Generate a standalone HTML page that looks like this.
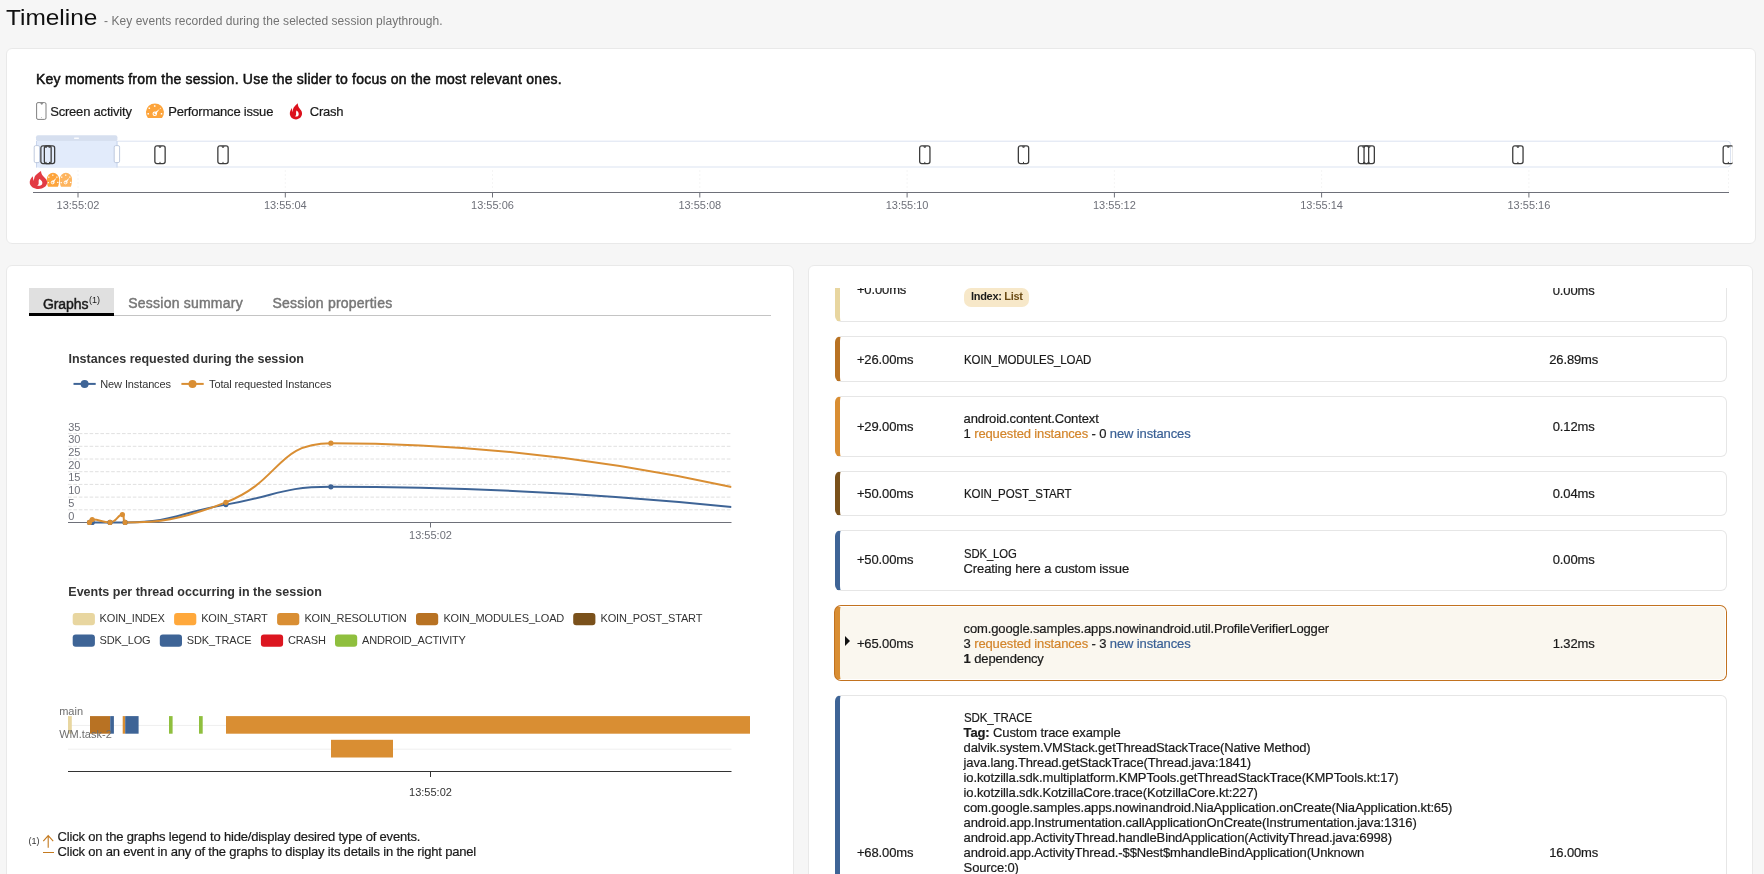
<!DOCTYPE html>
<html><head><meta charset="utf-8">
<style>
*{box-sizing:border-box}
html,body{margin:0;padding:0}
body{will-change:transform;width:1764px;height:874px;overflow:hidden;position:relative;background:#f6f6f6;font-family:"Liberation Sans",sans-serif;color:#1e1e1e}
.abs{position:absolute;white-space:nowrap}
.card{position:absolute;background:#fff;border:1px solid #e9e9e9;border-radius:6px}
svg text{font-family:"Liberation Sans",sans-serif}
.ax{font-size:11px;fill:#6e7079}
.ax2{font-size:11px;fill:#333}
.lg{font-size:11px;fill:#333;letter-spacing:-0.12px}
.lg2{font-size:11px;fill:#333;letter-spacing:-0.16px}
.ct{font-size:12.5px;font-weight:bold;fill:#333}
.yl{font-size:11px;fill:#6e6e6e}
#rp{position:absolute;left:826px;top:288px;width:910px;height:586px;overflow:hidden}
#rpi{position:absolute;left:-826px;top:-288px;width:1764px;height:1200px}
.row{position:absolute;background:#fff;border:1px solid #e6e6e6;border-left:5px solid #ccc;border-radius:6px}
.row.hl{background:#faf7ef;border-color:#fff;box-shadow:0 0 0 1px #c2721f}
.uc{display:inline-block;transform-origin:0 50%}
.t{position:absolute;white-space:nowrap;font-size:13px;line-height:15px;letter-spacing:-0.13px;color:#1a1a1a;-webkit-text-stroke:0.2px #1a1a1a}
.t .o{-webkit-text-stroke:0.2px #d3852b}
.t .b{-webkit-text-stroke:0.2px #3a6095}
.t b{font-weight:bold}
.o{color:#d3852b}
.b{color:#3a6095}
.badge{position:absolute;height:19px;padding:0 6px 3px 7px;background:#f7e8c9;border-radius:7px;font-size:11px;line-height:16px;letter-spacing:-0.3px;white-space:nowrap;color:#1a1a1a}
.badge .lst{color:#6b4b14}
.chev{position:absolute;width:0;height:0;border-top:5.1px solid transparent;border-bottom:5.1px solid transparent;border-left:5.4px solid #111}
</style></head><body>
<div class="abs" style="left:6px;top:4.18px;font-size:22px;line-height:28px;transform:scaleX(1.11);transform-origin:0 0;color:#111">Timeline</div>
<div class="abs" style="left:104px;top:13.64px;font-size:12px;line-height:14px;letter-spacing:0.05px;color:#737373">- Key events recorded during the selected session playthrough.</div>

<div class="card" style="left:6px;top:48px;width:1750px;height:196px"></div>
<div class="card" style="left:6px;top:265px;width:788px;height:640px"></div>
<div class="card" style="left:808px;top:265px;width:945px;height:640px"></div>

<div class="abs" style="left:36px;top:70.85px;font-size:14px;line-height:16px;letter-spacing:0.23px;-webkit-text-stroke:0.5px #111;color:#111">Key moments from the session. Use the slider to focus on the most relevant ones.</div>
<div class="abs" style="left:50.2px;top:103.70px;font-size:13px;line-height:15px;letter-spacing:-0.2px;color:#1a1a1a;-webkit-text-stroke:0.2px #1a1a1a">Screen activity</div>
<div class="abs" style="left:168.2px;top:103.70px;font-size:13px;line-height:15px;letter-spacing:-0.2px;color:#1a1a1a;-webkit-text-stroke:0.2px #1a1a1a">Performance issue</div>
<div class="abs" style="left:309.7px;top:103.70px;font-size:13px;line-height:15px;letter-spacing:-0.2px;color:#1a1a1a;-webkit-text-stroke:0.2px #1a1a1a">Crash</div>

<!-- tabs -->
<div class="abs" style="left:29px;top:288px;width:85px;height:25px;background:#e0e0e0"></div>
<div class="abs" style="left:29px;top:315px;width:742px;height:1px;background:#c4c4c4"></div>
<div class="abs" style="left:29px;top:313px;width:85px;height:3px;background:#000"></div>
<div class="abs" style="left:43px;top:295.65px;font-size:14px;line-height:16px;letter-spacing:-0.1px;-webkit-text-stroke:0.45px #1a1a1a;color:#1a1a1a">Graphs<span style="font-size:9px;-webkit-text-stroke:0;position:relative;top:-5.5px;margin-left:0.7px;letter-spacing:0">(1)</span></div>
<div class="abs" style="left:128.3px;top:294.75px;font-size:14px;line-height:16px;letter-spacing:0.22px;-webkit-text-stroke:0.45px #777;color:#777">Session summary</div>
<div class="abs" style="left:272.5px;top:294.75px;font-size:14px;line-height:16px;letter-spacing:0.22px;-webkit-text-stroke:0.45px #777;color:#777">Session properties</div>

<!-- footnote -->
<div class="abs" style="left:28.6px;top:836.18px;font-size:9px;line-height:10px;color:#333">(1)</div>
<div class="abs" style="left:57.6px;top:829.10px;font-size:13px;line-height:15px;letter-spacing:-0.19px;color:#1a1a1a;-webkit-text-stroke:0.2px #1a1a1a">Click on the graphs legend to hide/display desired type of events.<br>Click on an event in any of the graphs to display its details in the right panel</div>

<svg class="abs" style="left:0;top:0" width="1764" height="874" viewBox="0 0 1764 874">
<rect x="36" y="135.3" width="81.4" height="6" rx="2" fill="#d6dfef"/>
<rect x="74" y="137.6" width="5" height="1.3" rx="0.6" fill="#fff" opacity="0.9"/>
<rect x="36.5" y="141.2" width="1694" height="25.8" rx="3" fill="#fff" stroke="#dbe3f1" stroke-width="1"/>
<rect x="36" y="141" width="81.4" height="26.5" fill="#e2ebfb"/>
<line x1="36.5" y1="141" x2="36.5" y2="167.5" stroke="#c9d5ec" stroke-width="1"/>
<line x1="117" y1="141" x2="117" y2="167.5" stroke="#c9d5ec" stroke-width="1"/>
<g transform="translate(40.20,145.20)"><rect x="0.65" y="0.65" width="10.3" height="17.7" rx="2.1" fill="none" stroke="#3d3d3d" stroke-width="1.3"/><path d="M4.1,1.0 L7.5,1.0 L6.5,2.6 L5.1,2.6 Z" fill="#3d3d3d"/><path d="M5.8,17.9 L5.8,16.7" stroke="#3d3d3d" stroke-width="1"/></g>
<g transform="translate(43.70,145.20)"><rect x="0.65" y="0.65" width="10.3" height="17.7" rx="2.1" fill="none" stroke="#3d3d3d" stroke-width="1.3"/><path d="M4.1,1.0 L7.5,1.0 L6.5,2.6 L5.1,2.6 Z" fill="#3d3d3d"/><path d="M5.8,17.9 L5.8,16.7" stroke="#3d3d3d" stroke-width="1"/></g>
<g transform="translate(154.20,145.20)"><rect x="0.65" y="0.65" width="10.3" height="17.7" rx="2.1" fill="none" stroke="#3d3d3d" stroke-width="1.3"/><path d="M4.1,1.0 L7.5,1.0 L6.5,2.6 L5.1,2.6 Z" fill="#3d3d3d"/><path d="M5.8,17.9 L5.8,16.7" stroke="#3d3d3d" stroke-width="1"/></g>
<g transform="translate(217.20,145.20)"><rect x="0.65" y="0.65" width="10.3" height="17.7" rx="2.1" fill="none" stroke="#3d3d3d" stroke-width="1.3"/><path d="M4.1,1.0 L7.5,1.0 L6.5,2.6 L5.1,2.6 Z" fill="#3d3d3d"/><path d="M5.8,17.9 L5.8,16.7" stroke="#3d3d3d" stroke-width="1"/></g>
<g transform="translate(919.00,145.20)"><rect x="0.65" y="0.65" width="10.3" height="17.7" rx="2.1" fill="none" stroke="#3d3d3d" stroke-width="1.3"/><path d="M4.1,1.0 L7.5,1.0 L6.5,2.6 L5.1,2.6 Z" fill="#3d3d3d"/><path d="M5.8,17.9 L5.8,16.7" stroke="#3d3d3d" stroke-width="1"/></g>
<g transform="translate(1017.70,145.20)"><rect x="0.65" y="0.65" width="10.3" height="17.7" rx="2.1" fill="none" stroke="#3d3d3d" stroke-width="1.3"/><path d="M4.1,1.0 L7.5,1.0 L6.5,2.6 L5.1,2.6 Z" fill="#3d3d3d"/><path d="M5.8,17.9 L5.8,16.7" stroke="#3d3d3d" stroke-width="1"/></g>
<g transform="translate(1357.70,145.20)"><rect x="0.65" y="0.65" width="10.3" height="17.7" rx="2.1" fill="none" stroke="#3d3d3d" stroke-width="1.3"/><path d="M4.1,1.0 L7.5,1.0 L6.5,2.6 L5.1,2.6 Z" fill="#3d3d3d"/><path d="M5.8,17.9 L5.8,16.7" stroke="#3d3d3d" stroke-width="1"/></g>
<g transform="translate(1363.40,145.20)"><rect x="0.65" y="0.65" width="10.3" height="17.7" rx="2.1" fill="none" stroke="#3d3d3d" stroke-width="1.3"/><path d="M4.1,1.0 L7.5,1.0 L6.5,2.6 L5.1,2.6 Z" fill="#3d3d3d"/><path d="M5.8,17.9 L5.8,16.7" stroke="#3d3d3d" stroke-width="1"/></g>
<g transform="translate(1512.10,145.20)"><rect x="0.65" y="0.65" width="10.3" height="17.7" rx="2.1" fill="none" stroke="#3d3d3d" stroke-width="1.3"/><path d="M4.1,1.0 L7.5,1.0 L6.5,2.6 L5.1,2.6 Z" fill="#3d3d3d"/><path d="M5.8,17.9 L5.8,16.7" stroke="#3d3d3d" stroke-width="1"/></g>
<clipPath id="trk"><rect x="36" y="140" width="1696.5" height="30"/></clipPath>
<g clip-path="url(#trk)"><g transform="translate(1722.50,145.20)"><rect x="0.65" y="0.65" width="10.3" height="17.7" rx="2.1" fill="none" stroke="#3d3d3d" stroke-width="1.3"/><path d="M4.1,1.0 L7.5,1.0 L6.5,2.6 L5.1,2.6 Z" fill="#3d3d3d"/><path d="M5.8,17.9 L5.8,16.7" stroke="#3d3d3d" stroke-width="1"/></g></g>
<rect x="34.2" y="145.6" width="5.4" height="17" rx="1.5" fill="#fff" stroke="#b8c4da" stroke-width="0.9"/>
<rect x="114.2" y="145.6" width="5.4" height="17" rx="1.5" fill="#fff" stroke="#b8c4da" stroke-width="0.9"/>
<line x1="78.0" y1="170" x2="78.0" y2="191.5" stroke="#f5f5f5" stroke-width="1" stroke-dasharray="2,2"/>
<line x1="285.3" y1="170" x2="285.3" y2="191.5" stroke="#f5f5f5" stroke-width="1" stroke-dasharray="2,2"/>
<line x1="492.5" y1="170" x2="492.5" y2="191.5" stroke="#f5f5f5" stroke-width="1" stroke-dasharray="2,2"/>
<line x1="699.8" y1="170" x2="699.8" y2="191.5" stroke="#f5f5f5" stroke-width="1" stroke-dasharray="2,2"/>
<line x1="907.1" y1="170" x2="907.1" y2="191.5" stroke="#f5f5f5" stroke-width="1" stroke-dasharray="2,2"/>
<line x1="1114.4" y1="170" x2="1114.4" y2="191.5" stroke="#f5f5f5" stroke-width="1" stroke-dasharray="2,2"/>
<line x1="1321.6" y1="170" x2="1321.6" y2="191.5" stroke="#f5f5f5" stroke-width="1" stroke-dasharray="2,2"/>
<line x1="1528.9" y1="170" x2="1528.9" y2="191.5" stroke="#f5f5f5" stroke-width="1" stroke-dasharray="2,2"/>
<line x1="1728.5" y1="170" x2="1728.5" y2="191.5" stroke="#f5f5f5" stroke-width="1" stroke-dasharray="2,2"/>
<line x1="33" y1="192.5" x2="1729" y2="192.5" stroke="#6e7079" stroke-width="1"/>
<line x1="78.0" y1="192.5" x2="78.0" y2="197.5" stroke="#6e7079" stroke-width="1"/>
<text x="78.0" y="208.6" text-anchor="middle" class="ax">13:55:02</text>
<line x1="285.3" y1="192.5" x2="285.3" y2="197.5" stroke="#6e7079" stroke-width="1"/>
<text x="285.3" y="208.6" text-anchor="middle" class="ax">13:55:04</text>
<line x1="492.5" y1="192.5" x2="492.5" y2="197.5" stroke="#6e7079" stroke-width="1"/>
<text x="492.5" y="208.6" text-anchor="middle" class="ax">13:55:06</text>
<line x1="699.8" y1="192.5" x2="699.8" y2="197.5" stroke="#6e7079" stroke-width="1"/>
<text x="699.8" y="208.6" text-anchor="middle" class="ax">13:55:08</text>
<line x1="907.1" y1="192.5" x2="907.1" y2="197.5" stroke="#6e7079" stroke-width="1"/>
<text x="907.1" y="208.6" text-anchor="middle" class="ax">13:55:10</text>
<line x1="1114.4" y1="192.5" x2="1114.4" y2="197.5" stroke="#6e7079" stroke-width="1"/>
<text x="1114.4" y="208.6" text-anchor="middle" class="ax">13:55:12</text>
<line x1="1321.6" y1="192.5" x2="1321.6" y2="197.5" stroke="#6e7079" stroke-width="1"/>
<text x="1321.6" y="208.6" text-anchor="middle" class="ax">13:55:14</text>
<line x1="1528.9" y1="192.5" x2="1528.9" y2="197.5" stroke="#6e7079" stroke-width="1"/>
<text x="1528.9" y="208.6" text-anchor="middle" class="ax">13:55:16</text>
<g transform="translate(46.90,172.80)" opacity="1.0"><path d="M0,6.4 A6.1,6.4 0 0 1 12.2,6.4 C12.2,10 11.8,12.5 11.0,13.9 L1.2,13.9 C0.4,12.5 0,10 0,6.4 Z" fill="#fda43b"/><rect x="5.25" y="1.65" width="1.3" height="1.3" rx="0.3" fill="#fff"/><rect x="1.25" y="3.75" width="1.3" height="1.3" rx="0.3" fill="#fff"/><rect x="0.75" y="9.15" width="1.3" height="1.3" rx="0.3" fill="#fff"/><rect x="10.25" y="8.95" width="1.3" height="1.3" rx="0.3" fill="#fff"/><rect x="9.35" y="3.75" width="1.3" height="1.3" rx="0.3" fill="#fff"/><path d="M5.0,8.9 L9.6,4.9 L6.6,10.2 Z" fill="#fff"/><circle cx="5.8" cy="9.6" r="1.45" fill="none" stroke="#fff" stroke-width="1"/></g>
<g transform="translate(59.80,172.80)" opacity="0.82"><path d="M0,6.4 A6.1,6.4 0 0 1 12.2,6.4 C12.2,10 11.8,12.5 11.0,13.9 L1.2,13.9 C0.4,12.5 0,10 0,6.4 Z" fill="#fda43b"/><rect x="5.25" y="1.65" width="1.3" height="1.3" rx="0.3" fill="#fff"/><rect x="1.25" y="3.75" width="1.3" height="1.3" rx="0.3" fill="#fff"/><rect x="0.75" y="9.15" width="1.3" height="1.3" rx="0.3" fill="#fff"/><rect x="10.25" y="8.95" width="1.3" height="1.3" rx="0.3" fill="#fff"/><rect x="9.35" y="3.75" width="1.3" height="1.3" rx="0.3" fill="#fff"/><path d="M5.0,8.9 L9.6,4.9 L6.6,10.2 Z" fill="#fff"/><circle cx="5.8" cy="9.6" r="1.45" fill="none" stroke="#fff" stroke-width="1"/></g>
<g transform="translate(29.70,170.70) scale(1.423,1.110)" opacity="0.82"><path d="M7.94,0.18 C8.0,1.2 8.2,2.2 8.7,3.7 C9.3,5.2 10.4,6.0 11.2,7.2 C11.9,8.2 12.3,9.4 12.25,10.6 C12.2,13.9 9.6,16.4 6.2,16.4 C3.0,16.4 0.5,14.2 0.05,11.2 C-0.2,9.0 0.8,6.8 2.18,4.95 C2.2,6.4 2.5,8.0 2.95,9.3 C3.0,7.4 3.3,5.6 3.9,4.6 C4.9,2.9 6.6,1.5 7.94,0.18 Z" fill="#dc111c"/><path d="M6.6,7.5 C7.6,8.0 8.9,9.3 8.9,10.9 C8.9,12.4 8.3,13.4 7.2,13.5 L5.2,13.5 C5.9,12.8 6.4,12.0 6.3,11.0 C6.2,9.8 6.3,8.5 6.6,7.5 Z" fill="#fff"/></g>
<line x1="68" y1="433.6" x2="731.5" y2="433.6" stroke="#e0e0e0" stroke-width="1" stroke-dasharray="3.6,1.8"/>
<line x1="68" y1="446.3" x2="731.5" y2="446.3" stroke="#e0e0e0" stroke-width="1" stroke-dasharray="3.6,1.8"/>
<line x1="68" y1="459.0" x2="731.5" y2="459.0" stroke="#e0e0e0" stroke-width="1" stroke-dasharray="3.6,1.8"/>
<line x1="68" y1="471.7" x2="731.5" y2="471.7" stroke="#e0e0e0" stroke-width="1" stroke-dasharray="3.6,1.8"/>
<line x1="68" y1="484.4" x2="731.5" y2="484.4" stroke="#e0e0e0" stroke-width="1" stroke-dasharray="3.6,1.8"/>
<line x1="68" y1="497.1" x2="731.5" y2="497.1" stroke="#e0e0e0" stroke-width="1" stroke-dasharray="3.6,1.8"/>
<line x1="68" y1="509.8" x2="731.5" y2="509.8" stroke="#e0e0e0" stroke-width="1" stroke-dasharray="3.6,1.8"/>
<text x="68.2" y="430.6" class="ax">35</text>
<text x="68.2" y="443.3" class="ax">30</text>
<text x="68.2" y="456.0" class="ax">25</text>
<text x="68.2" y="468.7" class="ax">20</text>
<text x="68.2" y="481.4" class="ax">15</text>
<text x="68.2" y="494.1" class="ax">10</text>
<text x="68.2" y="506.8" class="ax">5</text>
<text x="68.2" y="519.5" class="ax">0</text>
<line x1="68" y1="522.5" x2="731.5" y2="522.5" stroke="#6e7079" stroke-width="1"/>
<line x1="430.5" y1="522.5" x2="430.5" y2="527.5" stroke="#6e7079" stroke-width="1"/>
<text x="430.5" y="539" text-anchor="middle" class="ax">13:55:02</text>
<clipPath id="g1"><rect x="66" y="425" width="665.5" height="110"/></clipPath>
<g clip-path="url(#g1)"><path d="M89.50,522.40 C89.50,522.40 90.85,522.40 92.20,522.40 C101.10,522.40 101.10,522.40 110.00,522.40 C117.55,522.40 117.65,522.40 125.10,522.40 C175.60,522.40 175.47,513.33 225.90,504.62 C278.37,495.55 280.56,486.84 330.90,486.84 Q531.20,486.84 731.50,507.00" fill="none" stroke="#3e6496" stroke-width="2" stroke-linejoin="round"/>
<path d="M89.50,522.40 C89.50,522.40 90.38,519.61 92.20,519.61 C100.63,519.61 101.68,522.40 110.00,522.40 C116.78,522.40 117.64,514.53 122.40,514.53 C125.10,514.53 122.40,522.40 125.10,522.40 C158.44,522.40 178.54,520.57 225.90,502.33 C281.44,480.95 275.65,443.15 330.90,443.15 Q531.20,443.15 731.50,487.00" fill="none" stroke="#d98e33" stroke-width="2" stroke-linejoin="round"/>
<circle cx="89.5" cy="522.40" r="2.6" fill="#3e6496"/>
<circle cx="92.2" cy="522.40" r="2.6" fill="#3e6496"/>
<circle cx="110.0" cy="522.40" r="2.6" fill="#3e6496"/>
<circle cx="125.1" cy="522.40" r="2.6" fill="#3e6496"/>
<circle cx="225.9" cy="504.62" r="2.6" fill="#3e6496"/>
<circle cx="330.9" cy="486.84" r="2.6" fill="#3e6496"/>
<circle cx="89.5" cy="522.40" r="2.6" fill="#d98e33"/>
<circle cx="92.2" cy="519.61" r="2.6" fill="#d98e33"/>
<circle cx="110.0" cy="522.40" r="2.6" fill="#d98e33"/>
<circle cx="122.4" cy="514.53" r="2.6" fill="#d98e33"/>
<circle cx="125.1" cy="522.40" r="2.6" fill="#d98e33"/>
<circle cx="225.9" cy="502.33" r="2.6" fill="#d98e33"/>
<circle cx="330.9" cy="443.15" r="2.6" fill="#d98e33"/>
</g>
<line x1="73.5" y1="383.9" x2="95.7" y2="383.9" stroke="#3e6496" stroke-width="2"/><circle cx="84.6" cy="383.9" r="4" fill="#3e6496"/>
<line x1="181.4" y1="383.9" x2="203.7" y2="383.9" stroke="#d98e33" stroke-width="2"/><circle cx="192.5" cy="383.9" r="4" fill="#d98e33"/>
<text x="100.3" y="387.9" class="lg">New Instances</text>
<text x="209.0" y="387.9" class="lg">Total requested Instances</text>
<text x="68.5" y="362.5" class="ct">Instances requested during the session</text>
<text x="68.3" y="596.1" class="ct">Events per thread occurring in the session</text>
<rect x="72.7" y="612.9" width="22.2" height="12.3" rx="3" fill="#e8d6a0"/>
<text x="99.6" y="622.2" class="lg2">KOIN_INDEX</text>
<rect x="174.1" y="612.9" width="22.2" height="12.3" rx="3" fill="#ffa83b"/>
<text x="201.2" y="622.2" class="lg2">KOIN_START</text>
<rect x="277.1" y="612.9" width="22.2" height="12.3" rx="3" fill="#d98e33"/>
<text x="304.4" y="622.2" class="lg2">KOIN_RESOLUTION</text>
<rect x="416.0" y="612.9" width="22.2" height="12.3" rx="3" fill="#b87223"/>
<text x="443.4" y="622.2" class="lg2">KOIN_MODULES_LOAD</text>
<rect x="573.2" y="612.9" width="22.2" height="12.3" rx="3" fill="#7a511b"/>
<text x="600.5" y="622.2" class="lg2">KOIN_POST_START</text>
<rect x="72.7" y="634.4" width="22.2" height="12.3" rx="3" fill="#3e6496"/>
<text x="99.6" y="643.7" class="lg2">SDK_LOG</text>
<rect x="159.8" y="634.4" width="22.2" height="12.3" rx="3" fill="#3e6496"/>
<text x="186.8" y="643.7" class="lg2">SDK_TRACE</text>
<rect x="260.9" y="634.4" width="22.2" height="12.3" rx="3" fill="#dc1620"/>
<text x="288.0" y="643.7" class="lg2">CRASH</text>
<rect x="335.0" y="634.4" width="22.2" height="12.3" rx="3" fill="#8fbf3e"/>
<text x="362.0" y="643.7" class="lg2">ANDROID_ACTIVITY</text>
<line x1="68" y1="725.4" x2="731.5" y2="725.4" stroke="#efefef" stroke-width="1"/>
<line x1="68" y1="749.2" x2="731.5" y2="749.2" stroke="#efefef" stroke-width="1"/>
<rect x="68.0" y="716.1" width="3.8" height="17.6" fill="#e8d6a0"/>
<rect x="90.0" y="716.1" width="20.2" height="17.6" fill="#b87223"/>
<rect x="110.2" y="716.1" width="3.7" height="17.6" fill="#3e6496"/>
<rect x="122.7" y="716.1" width="2.5" height="17.6" fill="#d98e33"/>
<rect x="125.2" y="716.1" width="13.4" height="17.6" fill="#3e6496"/>
<rect x="169.0" y="716.1" width="3.6" height="17.6" fill="#8fbf3e"/>
<rect x="199.0" y="716.1" width="3.7" height="17.6" fill="#8fbf3e"/>
<rect x="226.0" y="716.1" width="524.0" height="17.6" fill="#d98e33"/>
<rect x="331" y="739.8" width="62" height="17.7" fill="#d98e33"/>
<text x="59.2" y="714.6" class="yl">main</text>
<text x="59.2" y="737.8" class="yl">WM.task-2</text>
<line x1="68" y1="771.5" x2="731.5" y2="771.5" stroke="#333" stroke-width="1"/>
<line x1="430.5" y1="771.5" x2="430.5" y2="777" stroke="#333" stroke-width="1"/>
<text x="430.5" y="795.7" text-anchor="middle" class="ax2">13:55:02</text>
<g transform="translate(146.00,103.40) scale(1.000,1.000)" opacity="1.0"><path d="M1.9,14.6 A9,9 0 1,1 16.0,14.6 Z" fill="#fda43b"/><rect x="7.90" y="1.80" width="1.60" height="1.60" rx="0.4" fill="#fff"/><rect x="2.50" y="4.00" width="1.60" height="1.60" rx="0.4" fill="#fff"/><rect x="1.40" y="9.60" width="1.60" height="1.60" rx="0.4" fill="#fff"/><rect x="14.70" y="9.60" width="1.60" height="1.60" rx="0.4" fill="#fff"/><rect x="13.80" y="4.40" width="1.00" height="1.00" rx="0.4" fill="#fff"/><path d="M7.9,9.5 L13.6,5.6 L9.7,11.1 Z" fill="#fff"/><circle cx="8.8" cy="10.3" r="1.75" fill="none" stroke="#fff" stroke-width="1.1"/></g>
<g transform="translate(289.80,103.00) scale(1.000,1.000)" opacity="1.0"><path d="M7.94,0.18 C8.0,1.2 8.2,2.2 8.7,3.7 C9.3,5.2 10.4,6.0 11.2,7.2 C11.9,8.2 12.3,9.4 12.25,10.6 C12.2,13.9 9.6,16.4 6.2,16.4 C3.0,16.4 0.5,14.2 0.05,11.2 C-0.2,9.0 0.8,6.8 2.18,4.95 C2.2,6.4 2.5,8.0 2.95,9.3 C3.0,7.4 3.3,5.6 3.9,4.6 C4.9,2.9 6.6,1.5 7.94,0.18 Z" fill="#dc111c"/><path d="M6.6,7.5 C7.6,8.0 8.9,9.3 8.9,10.9 C8.9,12.4 8.3,13.4 7.2,13.5 L5.2,13.5 C5.9,12.8 6.4,12.0 6.3,11.0 C6.2,9.8 6.3,8.5 6.6,7.5 Z" fill="#fff"/></g>
<rect x="36.6" y="102.6" width="9.4" height="16.8" rx="1.4" fill="none" stroke="#6a6a6a" stroke-width="0.85"/>
<path d="M40.2,103.2 L43.2,103.2 L42.2,104.6 L41.2,104.6 Z" fill="#6a6a6a"/>
<circle cx="41.4" cy="117.6" r="0.45" fill="#777"/>
<path d="M48.2,847.8 L48.2,835.6 M43.3,841.2 L48.2,835.6 L53.2,841.2 M43.0,852.5 L54.0,852.5" fill="none" stroke="#c47a1f" stroke-width="1.1"/>
</svg>

<div id="rp"><div id="rpi">
<div class="row" style="left:835px;top:256px;height:66px;width:892px;border-left-color:#e8d6a0"><div class="t" style="top:24.70px;left:16.90px;">+0.00ms</div><div class="t" style="top:13.90px;left:123.60px;"><span class="uc" style="transform:scaleX(0.885)">KOIN_INDEX</span></div><div class="t" style="top:25.60px;left:673.70px;width:120px;text-align:center">0.00ms</div><div class="badge" style="top:31.00px;left:124px"><b>Index:</b> <b class="lst">List</b></div></div>
<div class="row" style="left:835px;top:336px;height:46px;width:892px;border-left-color:#b87223"><div class="t" style="top:14.70px;left:16.90px;">+26.00ms</div><div class="t" style="top:14.70px;left:123.60px;"><span class="uc" style="transform:scaleX(0.885)">KOIN_MODULES_LOAD</span></div><div class="t" style="top:14.70px;left:673.70px;width:120px;text-align:center">26.89ms</div></div>
<div class="row" style="left:835px;top:396px;height:61px;width:892px;border-left-color:#d98e33"><div class="t" style="top:21.80px;left:16.90px;">+29.00ms</div><div class="t" style="top:13.70px;left:123.60px;">android.content.Context</div><div class="t" style="top:28.70px;left:123.60px;">1 <span class="o">requested instances</span> - 0 <span class="b">new instances</span></div><div class="t" style="top:21.60px;left:673.70px;width:120px;text-align:center">0.12ms</div></div>
<div class="row" style="left:835px;top:471px;height:45px;width:892px;border-left-color:#7a511b"><div class="t" style="top:13.60px;left:16.90px;">+50.00ms</div><div class="t" style="top:13.60px;left:123.60px;"><span class="uc" style="transform:scaleX(0.888)">KOIN_POST_START</span></div><div class="t" style="top:13.60px;left:673.70px;width:120px;text-align:center">0.04ms</div></div>
<div class="row" style="left:835px;top:530px;height:61px;width:892px;border-left-color:#3e6496"><div class="t" style="top:21.40px;left:16.90px;">+50.00ms</div><div class="t" style="top:14.80px;left:123.60px;"><span class="uc" style="transform:scaleX(0.87)">SDK_LOG</span></div><div class="t" style="top:29.80px;left:123.60px;">Creating here a custom issue</div><div class="t" style="top:21.40px;left:673.70px;width:120px;text-align:center">0.00ms</div></div>
<div class="row hl" style="left:835px;top:606px;height:74px;width:891px;border-left-color:#d98e33"><div class="t" style="top:28.60px;left:16.90px;">+65.00ms</div><div class="t" style="top:13.70px;left:123.60px;">com.google.samples.apps.nowinandroid.util.ProfileVerifierLogger</div><div class="t" style="top:28.70px;left:123.60px;">3 <span class="o">requested instances</span> - 3 <span class="b">new instances</span></div><div class="t" style="top:43.70px;left:123.60px;"><b>1</b> dependency</div><div class="t" style="top:28.60px;left:673.70px;width:120px;text-align:center">1.32ms</div><div class="chev" style="top:28.80px;left:4.80px"></div></div>
<div class="row" style="left:835px;top:695px;height:330px;width:892px;border-left-color:#3e6496"><div class="t" style="top:148.70px;left:16.90px;">+68.00ms</div><div class="t" style="top:13.60px;left:123.60px;"><span class="uc" style="transform:scaleX(0.885)">SDK_TRACE</span></div><div class="t" style="top:28.60px;left:123.60px;"><b>Tag:</b> Custom trace example</div><div class="t" style="top:43.60px;left:123.60px;">dalvik.system.VMStack.getThreadStackTrace(Native Method)</div><div class="t" style="top:58.60px;left:123.60px;">java.lang.Thread.getStackTrace(Thread.java:1841)</div><div class="t" style="top:73.60px;left:123.60px;">io.kotzilla.sdk.multiplatform.KMPTools.getThreadStackTrace(KMPTools.kt:17)</div><div class="t" style="top:88.60px;left:123.60px;">io.kotzilla.sdk.KotzillaCore.trace(KotzillaCore.kt:227)</div><div class="t" style="top:103.60px;left:123.60px;">com.google.samples.apps.nowinandroid.NiaApplication.onCreate(NiaApplication.kt:65)</div><div class="t" style="top:118.60px;left:123.60px;">android.app.Instrumentation.callApplicationOnCreate(Instrumentation.java:1316)</div><div class="t" style="top:133.60px;left:123.60px;">android.app.ActivityThread.handleBindApplication(ActivityThread.java:6998)</div><div class="t" style="top:148.60px;left:123.60px;">android.app.ActivityThread.-$$Nest$mhandleBindApplication(Unknown</div><div class="t" style="top:163.60px;left:123.60px;">Source:0)</div><div class="t" style="top:178.60px;left:123.60px;">android.app.ActivityThread$H.handleMessage(ActivityThread.java:2282)</div><div class="t" style="top:148.70px;left:673.70px;width:120px;text-align:center">16.00ms</div></div>
</div></div>
</body></html>
